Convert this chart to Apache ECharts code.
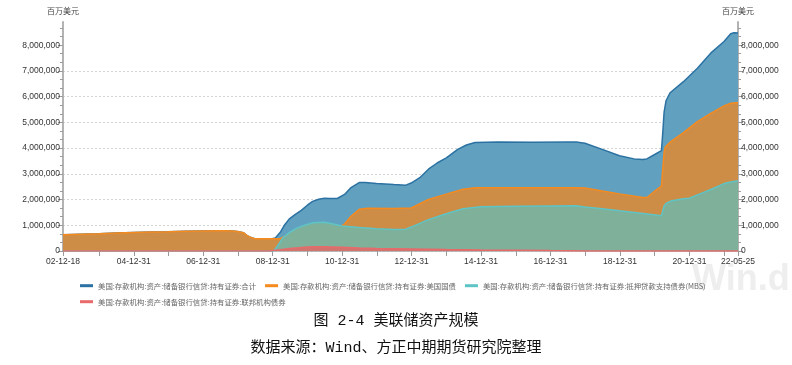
<!DOCTYPE html>
<html>
<head>
<meta charset="utf-8">
<script src="https://cdn.jsdelivr.net/npm/echarts@6/dist/echarts.min.js"></script>
<style>html,body{margin:0;padding:0;background:#fff;}#c{width:792px;height:365px;}</style>
</head>
<body>
<div id="c"></div>
<script>
// ---- Data (百万美元) ----
const seriesNames = [
  '美国:存款机构:资产:储备银行信贷:持有证券:合计',
  '美国:存款机构:资产:储备银行信贷:持有证券:美国国债',
  '美国:存款机构:资产:储备银行信贷:持有证券:抵押贷款支持债券(MBS)',
  '美国:存款机构:资产:储备银行信贷:持有证券:联邦机构债券'
];
const xLabelDates = ['2002-12-18','2004-12-31','2006-12-31','2008-12-31','2010-12-31','2012-12-31','2014-12-31','2016-12-31','2018-12-31','2020-12-31','2022-05-25'];
const xTickDates = ['2002-12-18','2003-12-31','2004-12-31','2005-12-31','2006-12-31','2007-12-31','2008-12-31','2009-12-31','2010-12-31','2011-12-31','2012-12-31','2013-12-31','2014-12-31','2015-12-31','2016-12-31','2017-12-31','2018-12-31','2019-12-31','2020-12-31','2021-12-31','2022-05-25'];
const yTicks = [0,1000000,2000000,3000000,4000000,5000000,6000000,7000000,8000000];

const totalData = [
  ['2002-12-18',635000],['2003-06-25',655000],['2003-12-31',670000],['2004-06-30',695000],['2004-12-29',717000],
  ['2005-06-29',740000],['2005-12-28',750000],['2006-06-28',765000],['2006-12-27',779000],['2007-06-27',790000],
  ['2007-08-15',791000],['2007-10-31',780000],['2007-12-26',755000],['2008-02-27',713000],['2008-03-26',630000],
  ['2008-04-30',550000],['2008-06-25',480000],['2008-12-31',490000],['2009-01-28',510000],['2009-03-25',750000],
  ['2009-04-29',980000],['2009-06-24',1250000],['2009-08-26',1420000],['2009-10-28',1580000],['2009-12-30',1780000],
  ['2010-02-24',1930000],['2010-04-28',2010000],['2010-06-30',2050000],['2010-08-25',2040000],['2010-11-10',2040000],
  ['2011-01-26',2200000],['2011-03-30',2450000],['2011-06-29',2660000],['2011-08-31',2660000],['2011-12-28',2620000],
  ['2012-06-27',2580000],['2012-10-31',2560000],['2012-12-26',2640000],['2013-03-27',2850000],['2013-06-26',3180000],
  ['2013-09-25',3420000],['2013-12-31',3620000],['2014-04-30',3950000],['2014-07-30',4120000],['2014-10-29',4220000],
  ['2015-06-24',4240000],['2016-06-29',4230000],['2017-06-28',4240000],['2017-09-27',4240000],['2017-12-27',4190000],
  ['2018-06-27',3950000],['2018-12-26',3700000],['2019-05-29',3580000],['2019-08-28',3560000],['2019-10-09',3580000],
  ['2019-12-31',3750000],['2020-03-11',3900000],['2020-03-25',4600000],['2020-04-08',5400000],['2020-04-29',5850000],
  ['2020-06-10',6150000],['2020-10-28',6580000],['2021-03-24',7100000],['2021-08-11',7690000],['2021-12-29',8140000],
  ['2022-03-09',8440000],['2022-04-13',8480000],['2022-05-25',8470000]
];
const treasuryData = [
  ['2002-12-18',635000],['2003-06-25',655000],['2003-12-31',670000],['2004-06-30',695000],['2004-12-29',717000],
  ['2005-06-29',740000],['2005-12-28',750000],['2006-06-28',765000],['2006-12-27',779000],['2007-06-27',790000],
  ['2007-08-15',791000],['2007-10-31',780000],['2007-12-26',755000],['2008-02-27',713000],['2008-03-26',630000],
  ['2008-04-30',550000],['2008-06-25',480000],['2008-12-31',476000],['2009-03-18',480000],['2009-06-24',650000],
  ['2009-10-28',770000],['2010-08-25',780000],['2010-11-10',850000],['2011-01-26',1050000],['2011-03-30',1330000],
  ['2011-06-29',1620000],['2011-09-28',1660000],['2012-06-27',1650000],['2012-12-26',1670000],['2013-06-26',2000000],
  ['2013-12-31',2210000],['2014-06-25',2400000],['2014-10-29',2460000],['2017-09-27',2460000],['2017-12-27',2450000],
  ['2018-06-27',2330000],['2018-12-26',2220000],['2019-08-28',2080000],['2019-10-16',2090000],['2019-12-31',2330000],
  ['2020-03-11',2520000],['2020-03-25',3200000],['2020-04-08',3850000],['2020-04-22',4050000],['2020-06-17',4250000],
  ['2020-10-28',4600000],['2021-03-24',5030000],['2021-08-11',5350000],['2021-12-29',5640000],['2022-03-09',5740000],
  ['2022-05-25',5770000]
];
const mbsData = [
  ['2002-12-18',0],['2009-01-07',0],['2009-02-04',120000],['2009-03-11',300000],['2009-04-15',500000],
  ['2009-06-17',700000],['2009-09-16',900000],['2009-12-16',1020000],['2010-03-03',1100000],['2010-06-30',1120000],
  ['2010-09-29',1050000],['2010-12-29',970000],['2011-06-29',910000],['2011-12-28',860000],['2012-06-27',840000],
  ['2012-10-31',850000],['2012-12-26',930000],['2013-06-26',1220000],['2013-12-31',1450000],['2014-06-25',1640000],
  ['2014-12-31',1720000],['2015-12-30',1740000],['2016-12-28',1750000],['2017-09-27',1760000],['2017-12-27',1710000],
  ['2018-06-27',1640000],['2018-12-26',1560000],['2019-08-28',1460000],['2020-03-11',1370000],['2020-03-25',1400000],
  ['2020-04-08',1750000],['2020-04-29',1850000],['2020-06-17',1940000],['2020-10-28',2030000],['2020-12-30',2050000],
  ['2021-04-07',2200000],['2021-08-25',2410000],['2022-01-05',2630000],['2022-04-20',2710000],['2022-05-25',2720000]
];
const agencyData = [
  ['2002-12-18',0],['2008-11-26',0],['2008-12-31',20000],['2009-03-25',50000],['2009-06-24',100000],
  ['2009-09-30',130000],['2009-12-30',160000],['2010-03-31',170000],['2010-06-30',170000],['2010-12-29',150000],
  ['2011-06-29',120000],['2011-12-28',100000],['2012-12-26',77000],['2013-12-31',57000],['2014-12-31',39000],
  ['2015-12-30',33000],['2016-12-28',16000],['2017-12-27',4000],['2018-09-26',2400],['2022-05-25',2300]
];

// ---- Styles ----
const lineColors = ['#2b72a3','#f58a1f','#5ec4c6','#e86a6b'];
const areaColors = ['#62a0bf','#cd8d47','#7eb09a','#d2736e'];

function toTs(s){ const p = s.split('-').map(Number); return Date.UTC(p[0], p[1]-1, p[2]); }
function pad(n){ return (n<10?'0':'')+n; }
function fmtDate(v){ const d = new Date(v); return pad(d.getUTCFullYear()%100)+'-'+pad(d.getUTCMonth()+1)+'-'+pad(d.getUTCDate()); }
function fmtNum(v){ return String(Math.round(v)).replace(/\B(?=(\d{3})+(?!\d))/g, ','); }

const chart = echarts.init(document.getElementById('c'), null, {renderer:'canvas'});
const datas = [totalData, treasuryData, mbsData, agencyData];

const yAxisBase = (pos) => ({
  type:'value', min:0, max:8900000, interval:1000000, position:pos,
  name:'百万美元', nameLocation:'end', nameGap:7,
  nameTextStyle:{fontSize:8, color:'#444', fontFamily:'Noto Sans CJK SC'},
  axisLine:{show:true, onZero:false, lineStyle:{color:'#b3b3b3', width:2}},
  axisTick:{show:true, length:5, customValues:yTicks, lineStyle:{color:'#9a9a9a'}},
  minorTick:{show:true, splitNumber:3, length:3, lineStyle:{color:'#9a9a9a'}},
  axisLabel:{fontSize:8.5, color:'#333', margin:3, fontFamily:'Liberation Sans', customValues:yTicks, formatter:fmtNum},
  splitLine:{show: pos==='left', showMaxLine:false, lineStyle:{type:[2,2], color:'#d3d3d3', width:1}}
});

chart.setOption({
  animation:false,
  backgroundColor:'#fff',
  grid:{left:63, right:54, top:22, bottom:114, containLabel:false},
  xAxis:{
    type:'value', min:toTs('2002-12-18'), max:toTs('2022-05-25'),
    axisLine:{show:true, onZero:false, lineStyle:{color:'#a8a8a8', width:1.5}},
    axisTick:{show:true, length:5, customValues:xTickDates.map(toTs), lineStyle:{color:'#9a9a9a'}},
    axisLabel:{fontSize:8.5, color:'#333', margin:6, fontFamily:'Liberation Sans', customValues:xLabelDates.map(toTs),
      formatter:function(v){ return fmtDate(v); }, showMinLabel:true, showMaxLabel:true},
    splitLine:{show:false}
  },
  yAxis:[yAxisBase('left'), yAxisBase('right')],
  legend:[
    {data:seriesNames.slice(0,3), left:75, top:277, icon:'rect', itemWidth:13, itemHeight:3, itemGap:9,
     textStyle:{fontSize:7.4, color:'#666', fontFamily:'Noto Sans CJK SC'}},
    {data:seriesNames.slice(3), left:75, top:293, icon:'rect', itemWidth:13, itemHeight:3, itemGap:9,
     textStyle:{fontSize:7.4, color:'#666', fontFamily:'Noto Sans CJK SC'}}
  ],
  graphic:[
    {type:'text', left:692, top:262, z:-10, silent:true,
     style:{text:'Win.d', fontSize:36, fontWeight:'bold', fontFamily:'Liberation Sans', fill:'#eeeeee'}},
    {type:'text', left:'center', top:314, style:{text:'图 2-4 美联储资产规模', fontSize:15, fill:'#111', fontFamily:"'Liberation Mono','Noto Sans CJK SC'"}},
    {type:'text', left:'center', top:341, style:{text:'数据来源：Wind、方正中期期货研究院整理', fontSize:15, fill:'#111', fontFamily:"'Liberation Mono','Noto Sans CJK SC'"}}
  ],
  series: datas.map((d,i)=>({
    name:seriesNames[i], type:'line', data:d.map(p=>[toTs(p[0]), p[1]]),
    showSymbol:false, symbol:'none', z:2+i,
    lineStyle:{color:lineColors[i], width:1.5},
    itemStyle:{color:lineColors[i]},
    areaStyle:{color:areaColors[i], opacity:1},
    emphasis:{disabled:true}
  }))
});
</script>
</body>
</html>
